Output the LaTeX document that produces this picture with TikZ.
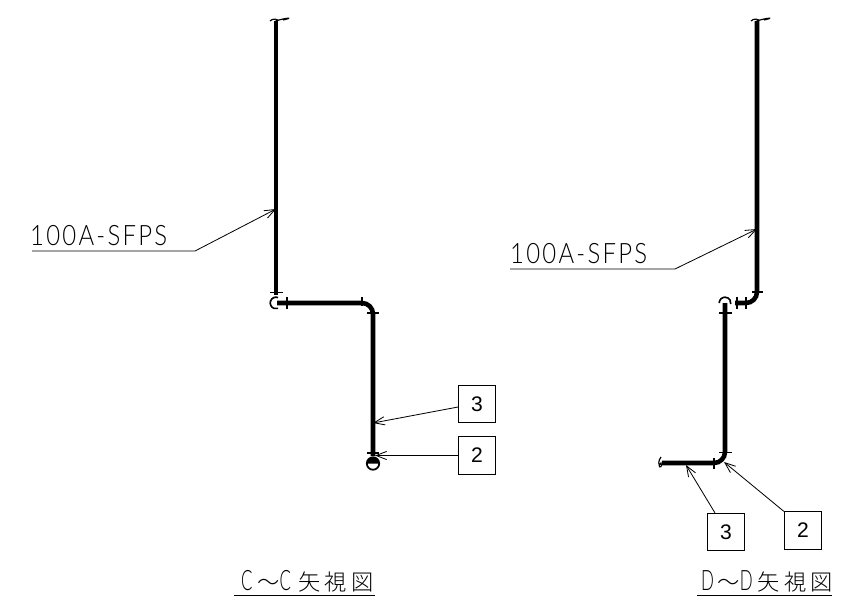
\documentclass[tikz,border=0pt]{standalone}
\usepackage{fontspec}
\usepackage{xcolor}
\usetikzlibrary{arrows.meta}
\setmainfont{Liberation Sans}
\newfontfamily\cadfont[LetterSpace=8,FakeStretch=0.85]{Lato Light}
\newfontfamily\narrowfont[FakeStretch=0.6]{Lato Light}
\newfontfamily\cjkfont[LetterSpace=20]{Noto Sans CJK JP Light}

\begin{document}
\begin{tikzpicture}[
      x=0.03cm, y=-0.03cm,
      >={Straight Barb[length=9pt,width=7pt]},
      pipe/.style={line width=3.9pt, rounded corners=0.33cm},
      tick/.style={line width=1.1pt},
      thin pipe/.style={line width=1pt},
      leader/.style={->, line width=0.7pt},
      tagbox/.style={draw, line width=0.8pt, minimum width=1.12cm, minimum height=1.12cm,
                  font=\fontsize{18}{18}\selectfont, inner sep=0pt},
      lbl/.style={anchor=base west, inner sep=0pt, font=\fontsize{24}{24}\selectfont\cadfont},
      ttl/.style={anchor=base west, inner sep=0pt, font=\fontsize{24}{24}\selectfont\narrowfont}
    ]
    \useasboundingbox (0,0) rectangle (843,608);
    % left view
    \coordinate (ltop) at (276,21);
    \coordinate (lelbow) at (276,295);
    \coordinate (lrun) at (277,303);
    \coordinate (lbend) at (373,303);
    \coordinate (lend) at (373,456);
    \coordinate (ldrop) at (373,463.5);
    \coordinate (lhit) at (276,209);
    \coordinate (lhit3) at (373,423);
    \coordinate (lhit2) at (375,455.5);
    \draw[pipe] (ltop) -- (lelbow);
    \draw[pipe] (lrun) -- (lbend) -- (lend);
    \draw[thin pipe] (ltop) ++(-6,0) .. controls +(2,-3) and +(4,-2) .. +(6,0) .. controls +(8,-3) and +(13,-3) .. +(13,-1);
    \draw[tick] (270,292.5) -- (283,292.5);
    \draw[tick] (287,297) -- (287,309);
    \draw[tick] (362,297) -- (362,306);
    \draw[tick] (367,313) -- (379,313);
    \draw[tick] (367,453) -- (379,453);
    \draw[line width=1.4pt] (278,297.5) arc[start angle=-70, delta angle=-220, radius=5.8];
    \draw[line width=1.5pt] (ldrop) circle[radius=6.2];
    \fill (ldrop) ++(-6.2,0) arc[start angle=180, delta angle=180, radius=6.2] -- cycle;
    \node[tagbox] (ctag3) at (477,404) {3};
    \node[tagbox] (ctag2) at (477,455.5) {2};
    \draw[leader] (ctag3.189) -- (lhit3);
    \draw[leader] (ctag2.west) -- (lhit2);
    \node[lbl] (clabel) at (30,245) {100A-SFPS};
    \coordinate (lfoot) at (32,251);
    \coordinate (lknee) at (195,251);
    \draw[leader] (lfoot) -- (lknee) -- (lhit);
    \node[ttl] (ctitle) at (241,590) {C\hspace{4pt}{\cjkfont\fontsize{19}{19}\selectfont ～}C\hspace{6pt}{\cjkfont\fontsize{19}{19}\selectfont 矢視図}};
    \coordinate (ctl) at (234,595);
    \coordinate (ctr) at (375,595);
    \draw[line width=0.7pt] (ctl) -- (ctr);
    % right view
    \coordinate (rtop) at (757,21);
    \coordinate (rbend) at (757,303);
    \coordinate (rrun) at (735,303);
    \coordinate (rdrop) at (725,303);
    \coordinate (rlow) at (725,463);
    \coordinate (rleft) at (662,463);
    \coordinate (rhit) at (757,229);
    \coordinate (rhit3) at (686,465);
    \coordinate (rhit2) at (724,462);
    \draw[pipe] (rtop) -- (rbend) -- (rrun);
    \draw[pipe] (rdrop) -- (rlow) -- (rleft);
    \draw[thin pipe] (rtop) ++(-6,0) .. controls +(2,-3) and +(4,-2) .. +(6,0) .. controls +(8,-3) and +(13,-3) .. +(13,-1);
    \draw[thin pipe] (rleft) ++(-1,-6) .. controls +(-3,3) and +(-3,5) .. +(0,6) .. controls +(2,3) and +(0,6) .. +(-2,7);
    \draw[tick] (752,292) -- (763,292);
    \draw[tick] (737,297) -- (737,309);
    \draw[tick] (746,297) -- (746,309);
    \draw[tick] (719,313) -- (732,313);
    \draw[tick] (719,452.5) -- (732,452.5);
    \draw[tick] (714,458) -- (714,469);
    \draw[line width=1.4pt] (719.2,303) arc[start angle=180, delta angle=190, radius=5.8];
    \node[tagbox] (dtag3) at (726,532) {3};
    \node[tagbox] (dtag2) at (803,530.5) {2};
    \draw[leader] (dtag3.120) -- (rhit3);
    \draw[leader] (dtag2.north west) -- (rhit2);
    \node[lbl] (dlabel) at (510,263) {100A-SFPS};
    \coordinate (rfoot) at (510,269);
    \coordinate (rknee) at (675,269);
    \draw[leader] (rfoot) -- (rknee) -- (rhit);
    \node[ttl] (dtitle) at (701,590) {D\hspace{3pt}{\cjkfont\fontsize{19}{19}\selectfont ～}D\hspace{4pt}{\cjkfont\fontsize{19}{19}\selectfont 矢視図}};
    \coordinate (dtl) at (697,595);
    \coordinate (dtr) at (832,595);
    \draw[line width=0.7pt] (dtl) -- (dtr);
  \end{tikzpicture}
\end{document}
